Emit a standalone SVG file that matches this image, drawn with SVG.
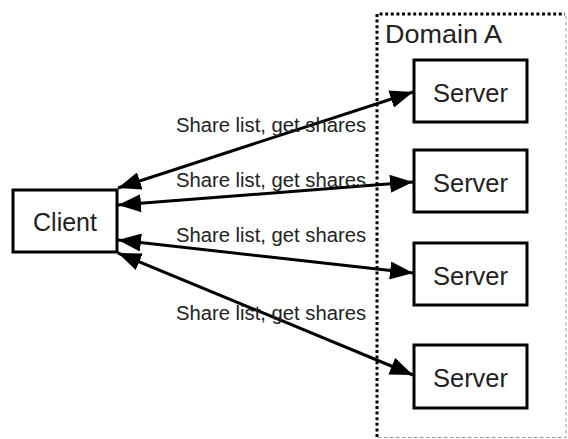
<svg xmlns="http://www.w3.org/2000/svg" width="568" height="439" viewBox="0 0 568 439">
  <style>
    .box { fill: #ffffff; stroke: #000000; stroke-width: 3; }
    .node-text { font-family: "Liberation Sans", Arial, sans-serif; font-size: 25px; fill: #222222; text-anchor: middle; }
    .label { font-family: "Liberation Sans", Arial, sans-serif; font-size: 20px; fill: #222222; }
    .link { stroke: #000000; stroke-width: 3; fill: none; marker-start: url(#head); marker-end: url(#head); }
    .domain-dark { stroke: #000000; stroke-width: 3; stroke-dasharray: 3 2.6; fill: none; }
    .domain-light { stroke: #9a9a9a; stroke-width: 1; stroke-dasharray: 3.5 2.5; fill: none; }
  </style>
  <defs>
    <marker id="head" viewBox="0 0 23 18" refX="23" refY="9" markerWidth="23" markerHeight="18" markerUnits="userSpaceOnUse" orient="auto-start-reverse">
      <path d="M0,0 L23,9 L0,18 Z" fill="#000000"/>
    </marker>
  </defs>

  <rect width="568" height="439" fill="#ffffff"/>

  <!-- Domain boundary -->
  <g id="domain-a">
    <path class="domain-dark" d="M377,437 L377,14 L565,14"/>
    <path class="domain-light" d="M566,16 L566,437.5 L378,437.5"/>
    <text x="385" y="43" class="node-text" style="text-anchor:start;font-size:26px" textLength="117" lengthAdjust="spacingAndGlyphs">Domain A</text>
  </g>

  <!-- Connectors -->
  <g id="connectors">
    <line class="link" x1="118" y1="188" x2="413" y2="92"/>
    <line class="link" x1="118" y1="205" x2="413" y2="182"/>
    <line class="link" x1="118" y1="240" x2="413" y2="273"/>
    <line class="link" x1="118" y1="253" x2="413" y2="375"/>
    <text class="label" x="176" y="132" textLength="190" lengthAdjust="spacingAndGlyphs">Share list, get shares</text>
    <text class="label" x="176" y="187" textLength="190" lengthAdjust="spacingAndGlyphs">Share list, get shares</text>
    <text class="label" x="176" y="242" textLength="190" lengthAdjust="spacingAndGlyphs">Share list, get shares</text>
    <text class="label" x="176" y="320" textLength="190" lengthAdjust="spacingAndGlyphs">Share list, get shares</text>
  </g>

  <!-- Nodes -->
  <g id="client">
    <rect class="box" x="13" y="190" width="104" height="62"/>
    <text class="node-text" x="65" y="231">Client</text>
  </g>
  <g id="server-1">
    <rect class="box" x="414" y="60" width="113" height="62"/>
    <text class="node-text" x="470.5" y="102" textLength="75" lengthAdjust="spacingAndGlyphs">Server</text>
  </g>
  <g id="server-2">
    <rect class="box" x="414" y="150" width="113" height="62"/>
    <text class="node-text" x="470.5" y="192" textLength="75" lengthAdjust="spacingAndGlyphs">Server</text>
  </g>
  <g id="server-3">
    <rect class="box" x="414" y="243" width="113" height="62"/>
    <text class="node-text" x="470.5" y="285" textLength="75" lengthAdjust="spacingAndGlyphs">Server</text>
  </g>
  <g id="server-4">
    <rect class="box" x="414" y="345" width="113" height="63"/>
    <text class="node-text" x="470.5" y="387" textLength="75" lengthAdjust="spacingAndGlyphs">Server</text>
  </g>
</svg>
